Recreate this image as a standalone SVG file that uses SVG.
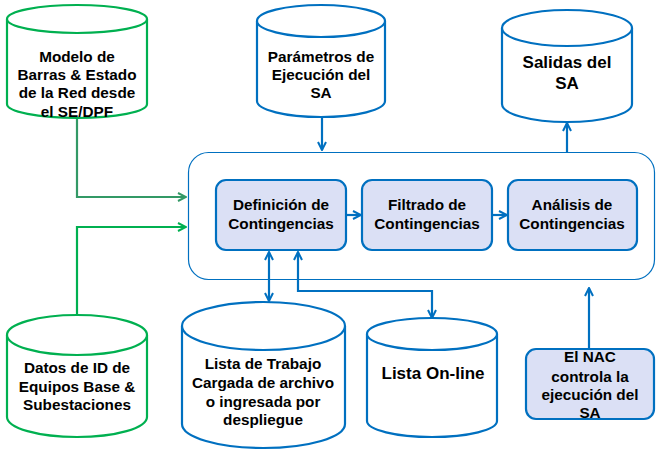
<svg xmlns="http://www.w3.org/2000/svg" width="663" height="454" viewBox="0 0 663 454">
<defs>
<style>
.cylB{fill:#fff;stroke:#0070c0;stroke-width:2.2}
.cylG{fill:#fff;stroke:#00b050;stroke-width:2.2}
.box{fill:#dbe0f5;stroke:#0070c0;stroke-width:2.2}
.t{font-family:"Liberation Sans",Arial,sans-serif;font-weight:bold;font-size:15.3px;fill:#000;text-anchor:middle}
.tl{font-size:17px}
.cb{fill:none;stroke:#0070c0;stroke-width:2.2}
.cg{fill:none;stroke:#00b050;stroke-width:2.2}
.cg2{fill:none;stroke:#339966;stroke-width:2.2}
</style>
<marker id="ab" viewBox="0 0 10 10" refX="9" refY="5" markerWidth="10" markerHeight="10" markerUnits="userSpaceOnUse" orient="auto-start-reverse">
<path d="M1,1 L9,5 L1,9" fill="none" stroke="#0070c0" stroke-width="2"/>
</marker>
<marker id="ag" viewBox="0 0 10 10" refX="9" refY="5" markerWidth="10" markerHeight="10" markerUnits="userSpaceOnUse" orient="auto">
<path d="M1,1 L9,5 L1,9" fill="none" stroke="#00b050" stroke-width="2"/>
</marker>
<marker id="ag2" viewBox="0 0 10 10" refX="9" refY="5" markerWidth="10" markerHeight="10" markerUnits="userSpaceOnUse" orient="auto">
<path d="M1,1 L9,5 L1,9" fill="none" stroke="#339966" stroke-width="2"/>
</marker>
</defs>
<rect width="663" height="454" fill="#fff"/>

<g id="container">
<rect x="188.5" y="152.5" width="466" height="127" rx="20" fill="#fff" stroke="#0070c0" stroke-width="1.2"/>
</g>

<g id="connectors">
<polyline class="cg2" points="77,118 77,197 186,197" marker-end="url(#ag2)"/>
<polyline class="cg" points="77,315 77,227 186,227" marker-end="url(#ag)"/>
<line class="cb" x1="322" y1="117" x2="322" y2="150" marker-end="url(#ab)"/>
<line class="cb" x1="567" y1="152" x2="567" y2="123" marker-end="url(#ab)"/>
<line class="cb" x1="346" y1="215" x2="361" y2="215" marker-end="url(#ab)"/>
<line class="cb" x1="492" y1="215" x2="507" y2="215" marker-end="url(#ab)"/>
<line class="cb" x1="269" y1="252" x2="269" y2="301" marker-start="url(#ab)" marker-end="url(#ab)"/>
<polyline class="cb" points="298,252 298,291 432,291 432,318" marker-start="url(#ab)" marker-end="url(#ab)"/>
<line class="cb" x1="589" y1="348" x2="589" y2="288" marker-end="url(#ab)"/>
</g>

<g id="modelo">
<path class="cylG" d="M7,19 L7,104 A70,14 0 0 0 147,104 L147,19"/>
<ellipse class="cylG" cx="77" cy="19" rx="70" ry="14"/>
<text class="t" x="77"><tspan x="77" y="62">Modelo de</tspan><tspan x="77" y="80">Barras &amp; Estado</tspan><tspan x="77" y="98">de la Red desde</tspan><tspan x="77" y="117">el SE/DPF</tspan></text>
</g>

<g id="parametros">
<path class="cylB" d="M257,21 L257,101 A64,16 0 0 0 385,101 L385,21"/>
<ellipse class="cylB" cx="321" cy="21" rx="64" ry="16"/>
<text class="t"><tspan x="321" y="62">Parámetros de</tspan><tspan x="321" y="80">Ejecución del</tspan><tspan x="321" y="98">SA</tspan></text>
</g>

<g id="salidas">
<path class="cylB" d="M502,28 L502,104 A65,18 0 0 0 632,104 L632,28"/>
<ellipse class="cylB" cx="567" cy="28" rx="65" ry="18"/>
<text class="t tl"><tspan x="567" y="68">Salidas del</tspan><tspan x="567" y="89">SA</tspan></text>
</g>

<g id="definicion">
<rect class="box" x="216" y="180" width="130" height="70" rx="10"/>
<text class="t"><tspan x="281" y="210">Definición de</tspan><tspan x="281" y="229">Contingencias</tspan></text>
</g>

<g id="filtrado">
<rect class="box" x="362" y="180" width="130" height="70" rx="10"/>
<text class="t"><tspan x="427" y="210">Filtrado de</tspan><tspan x="427" y="229">Contingencias</tspan></text>
</g>

<g id="analisis">
<rect class="box" x="508" y="180" width="129" height="70" rx="10"/>
<text class="t"><tspan x="572" y="210">Análisis de</tspan><tspan x="572" y="229">Contingencias</tspan></text>
</g>

<g id="datos">
<path class="cylG" d="M7,335 L7,417 A70,20 0 0 0 147,417 L147,335"/>
<ellipse class="cylG" cx="77" cy="335" rx="70" ry="20"/>
<text class="t"><tspan x="77" y="373">Datos de ID de</tspan><tspan x="77" y="392">Equipos Base &amp;</tspan><tspan x="77" y="410">Subestaciones</tspan></text>
</g>

<g id="lista-trabajo">
<path class="cylB" d="M182,326 L182,424 A81.5,24 0 0 0 345,424 L345,326"/>
<ellipse class="cylB" cx="263.5" cy="326" rx="81.5" ry="24"/>
<text class="t"><tspan x="263" y="369">Lista de Trabajo</tspan><tspan x="263" y="388">Cargada de archivo</tspan><tspan x="263" y="407">o ingresada por</tspan><tspan x="263" y="425">despliegue</tspan></text>
</g>

<g id="lista-online">
<path class="cylB" d="M367,334 L367,421 A65,16 0 0 0 497,421 L497,334"/>
<ellipse class="cylB" cx="432" cy="334" rx="65" ry="16"/>
<text class="t tl" x="433" y="379">Lista On-line</text>
</g>

<g id="nac">
<rect class="box" x="526" y="349" width="128" height="70" rx="10"/>
<text class="t"><tspan x="590" y="362">El NAC</tspan><tspan x="590" y="382">controla la</tspan><tspan x="590" y="400">ejecución del</tspan><tspan x="590" y="418">SA</tspan></text>
</g>
</svg>
